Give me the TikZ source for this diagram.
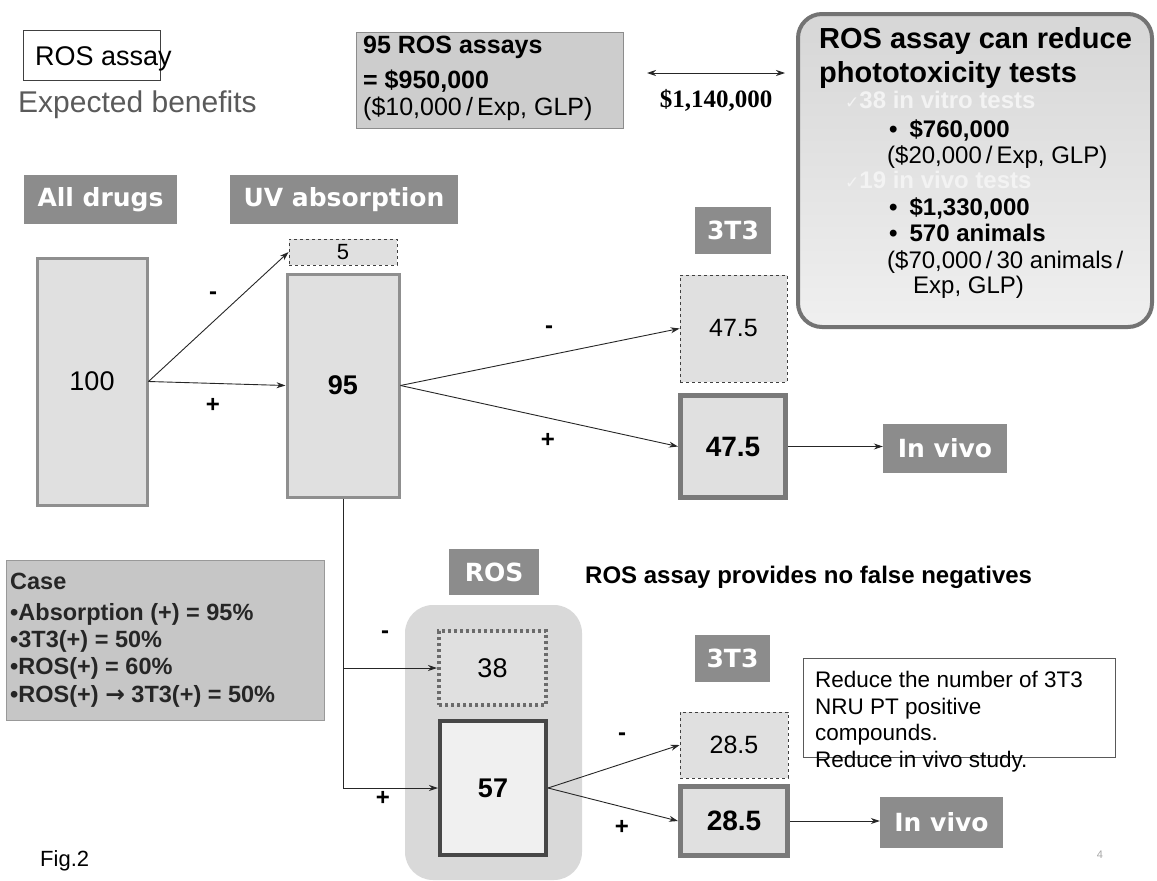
\documentclass[tikz,border=0pt]{standalone}
\usepackage{fontspec}
\setmainfont{Liberation Sans}
\newfontfamily\serifnum{Liberation Serif}
\newfontfamily\dejavu{DejaVu Sans}
\usetikzlibrary{arrows.meta}
\newcommand{\px}[1]{\fontsize{#1}{#1}\selectfont}
\definecolor{hdrgray}{HTML}{8C8C8C}
\definecolor{boxfill}{HTML}{E0E0E0}
\definecolor{boxedge}{HTML}{8F8F8F}
\definecolor{rosbg}{HTML}{D9D9D9}
\definecolor{casefill}{HTML}{C6C6C6}
\definecolor{costfill}{HTML}{CDCDCD}
\definecolor{checkgray}{HTML}{F3F3F3}
\definecolor{benefitgray}{HTML}{5A5A5A}
\tikzset{>={Stealth[length=9pt,width=6pt]}}
\tikzset{
  hdr/.style={fill=hdrgray, text=white, inner sep=0pt, font=\dejavu\bfseries\px{25}},
  countbox/.style={draw=boxedge, line width=3pt, fill=boxfill, inner sep=0pt, font=\px{27}},
  dashbox/.style={draw=black!75, dashed, line width=0.8pt, fill=boxfill, inner sep=0pt, font=\px{25}},
  hitbox/.style={draw=black!52, line width=5pt, fill=boxfill, inner sep=0pt, font=\bfseries\px{28}},
  sign/.style={inner sep=0pt, font=\bfseries\px{24}},
  flow/.style={->, line width=0.9pt, black!85},
  line/.style={anchor=base west, inner sep=0pt}
}

\begin{document}
\begin{tikzpicture}[x=1pt,y=-1pt]
\useasboundingbox (0,0) rectangle (1157,881);

% title
\node[draw=black!75, minimum width=137, minimum height=50, inner sep=0] (rosframe) at (91.5,55) {};
\node[line, font=\px{27}] (rostitle) at (35,65) {ROS assay};
\node[line, font=\px{30}, text=benefitgray] (benefits) at (18,112) {Expected benefits};

% cost of the ROS assays
\node[fill=costfill, draw=black!45, minimum width=267, minimum height=96] (cost) at (489.5,80) {};
\node[line, font=\bfseries\px{25}] (cost1) at (363,53) {95 ROS assays};
\node[line, font=\bfseries\px{25}] (cost2) at (363,88) {= \$950,000};
\node[line, font=\px{25}] (cost3) at (363,115) {(\$10,000\,/\,Exp, GLP)};
\coordinate (dl) at (647,73);
\coordinate (dr) at (785,73);
\draw[<->, line width=0.9pt, black!85] (dl) -- (dr);
\node[inner sep=0, font=\serifnum\bfseries\px{25}, anchor=base] (saving) at (716,107) {\$1,140,000};

% what the ROS assay saves
\node[draw=black!55, line width=4pt, rounded corners=24pt, top color=black!16, bottom color=black!6,
  minimum width=354, minimum height=313] (gain) at (975,170.5) {};
\foreach \x/\y/\t [count=\i] in {
  819/48/{\bfseries\px{29}ROS assay can reduce},
  819/82/{\bfseries\px{29}phototoxicity tests},
  845/108/{\bfseries\color{checkgray}{\dejavu\px{17}✓}38 in vitro tests},
  889/137/{\bfseries •\hspace{12pt}\$760,000},
  887/163/{(\$20,000\,/\,Exp, GLP)},
  845/188/{\bfseries\color{checkgray}{\dejavu\px{17}✓}19 in vivo tests},
  889/215/{\bfseries •\hspace{12pt}\$1,330,000},
  889/241/{\bfseries •\hspace{12pt}570 animals},
  887/268/{(\$70,000\,/\,30 animals\,/},
  913/293/{Exp, GLP)}}
  \node[line, font=\px{24}] (gain\i) at (\x,\y) {\t};

% screening, upper path
\node[hdr, minimum width=153, minimum height=49] (alldrugs) at (100.5,199.5) {All drugs};
\node[hdr, minimum width=228, minimum height=49] (uvabs) at (344,199.5) {UV absorption};
\node[hdr, minimum width=76, minimum height=47] (tttA) at (733,230.5) {3T3};
\node[countbox, minimum width=110, minimum height=247] (n100) at (92,381.5) {100};
\node[dashbox, minimum width=108, minimum height=26, font=\px{22}] (n5) at (343,252) {5};
\node[countbox, minimum width=112, minimum height=223, font=\bfseries\px{27}] (n95) at (343,385.5) {95};
\node[dashbox, minimum width=107, minimum height=107] (neg47) at (733.5,328.5) {47.5};
\node[hitbox, minimum width=105, minimum height=102] (pos47) at (733,446.5) {47.5};
\node[hdr, minimum width=124, minimum height=49] (vivoA) at (945,448.5) {In vivo};
\draw[flow] (n100.east) -- (n5.west);
\draw[flow] (n100.east) -- (n95.west);
\draw[flow] (n95.east) -- (neg47.west);
\draw[flow] (n95.east) -- (pos47.west);
\draw[flow] (pos47.east) -- (pos47.east -| vivoA.west);
\node[sign] (minusA) at (213,296) {-};
\node[sign] (plusA) at (213,405) {+};
\node[sign] (minusB) at (549,330) {-};
\node[sign] (plusB) at (548,440) {+};

% case
\node[fill=casefill, draw=black!40, minimum width=318, minimum height=160] (case) at (165,640) {};
\foreach \y/\t [count=\i] in {
  589/{Case},
  620/{•Absorption (+) = 95\%},
  647/{•3T3(+) = 50\%},
  674/{•ROS(+) = 60\%},
  702/{•ROS(+) {\dejavu→} 3T3(+) = 50\%}}
  \node[line, font=\bfseries\px{23.5}, text=black!85] (case\i) at (10,\y) {\t};

% screening, ROS path
\node[hdr, minimum width=90, minimum height=46] (roshdr) at (494,572) {ROS};
\node[line, font=\bfseries\px{24}] (nofalse) at (585,583) {ROS assay provides no false negatives};
\node[fill=rosbg, rounded corners=28pt, minimum width=177, minimum height=275] (rosarea) at (493.5,742.5) {};
\node[draw=black!58, line width=4pt, dash pattern=on 3pt off 3pt, fill=boxfill, inner sep=0,
  minimum width=107, minimum height=74, font=\px{27}] (n38) at (492.5,668) {38};
\node[draw=black!72, line width=4pt, fill=black!6, inner sep=0,
  minimum width=106, minimum height=134, font=\bfseries\px{27}] (n57) at (493,788) {57};
\node[hdr, minimum width=75, minimum height=47] (tttB) at (732.5,658.5) {3T3};
\node[dashbox, minimum width=108, minimum height=66] (neg28) at (734,745) {28.5};
\node[hitbox, minimum width=107, minimum height=69] (pos28) at (734,821) {28.5};
\node[hdr, minimum width=123, minimum height=51] (vivoB) at (941.5,822.5) {In vivo};
\draw[flow] (n95.south) |- (n57.west);
\draw[flow] (n95.south |- n38.west) -- (n38.west);
\draw[flow] (n57.east) -- (neg28.west);
\draw[flow] (n57.east) -- (pos28.west);
\draw[flow] (pos28.east) -- (pos28.east -| vivoB.west);
\node[sign] (minusC) at (385,635) {-};
\node[sign] (plusC) at (383,798) {+};
\node[sign] (minusD) at (622,737) {-};
\node[sign] (plusD) at (622,827) {+};

% note
\node[draw=black!65, fill=white, minimum width=312, minimum height=99] (note) at (959,707.5) {};
\foreach \y/\t [count=\i] in {
  687/{Reduce the number of 3T3},
  714/{NRU PT positive},
  740/{compounds.},
  767/{Reduce in vivo study.}}
  \node[line, font=\px{22.5}] (note\i) at (815,\y) {\t};

\node[line, font=\px{22}] (figlabel) at (40,866) {Fig.2};
\node[inner sep=0, font=\px{11}, text=black!35] (pagenum) at (1100,855) {4};
\end{tikzpicture}
\end{document}
